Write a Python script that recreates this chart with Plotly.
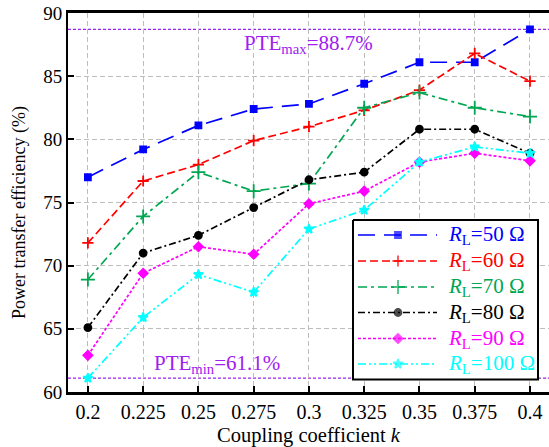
import plotly.graph_objects as go

k = [0.2, 0.225, 0.25, 0.275, 0.3, 0.325, 0.35, 0.375, 0.4]
pte_50 = [77.0, 79.2, 81.1, 82.4, 82.8, 84.4, 86.1, 86.1, 88.7]
pte_60 = [71.8, 76.7, 78.0, 79.9, 81.0, 82.3, 83.9, 86.8, 84.6]
pte_70 = [68.9, 73.9, 77.4, 75.9, 76.5, 82.5, 83.7, 82.5, 81.8]
pte_80 = [65.1, 71.0, 72.4, 74.6, 76.8, 77.4, 80.8, 80.8, 78.9]
pte_90 = [62.9, 69.4, 71.5, 70.9, 74.9, 75.9, 78.2, 78.9, 78.3]
pte_100 = [61.1, 65.9, 69.3, 67.9, 72.9, 74.4, 78.2, 79.4, 78.9]
loads = [50, 60, 70, 80, 90, 100]
pte_max = 88.7
pte_min = 61.1
x_ticks = [0.2, 0.225, 0.25, 0.275, 0.3, 0.325, 0.35, 0.375, 0.4]
x_tick_labels = ["0.2", "0.225", "0.25", "0.275", "0.3", "0.325", "0.35", "0.375", "0.4"]
y_ticks = [60, 65, 70, 75, 80, 85, 90]

series = [pte_50, pte_60, pte_70, pte_80, pte_90, pte_100]
colors = ["#0000FF", "#FF0000", "#00A651", "#000000", "#FF00FF", "#00FFFF"]
dashes = ["17px,9px", "8px,4px", "9px,4px,3px,4px", "7px,3px,2px,3px", "3px,2px", "8px,3px,2px,3px,2px,3px"]
symbols = ["square", "cross-thin", "cross-thin", "circle", "diamond", "star"]
msizes = [6, 8, 10, 7, 7, 7]
FONT = "Liberation Serif, Times New Roman, serif"
PURPLE = "#A020F0"

# plot area in pixels (used for the hand-made legend on an overlay axis)
PX_L, PX_R, PX_T, PX_B = 68, 549, 13, 392
LEG_X0, LEG_X1, LEG_Y0, LEG_Y1 = 353, 538, 220, 379.5
LEG_ROWS = [235, 261, 287, 312.5, 338.5, 364]
SAMPLE_X = [358, 398, 437]
TEXT_X = 446

fig = go.Figure()
for vals, R, c, d, s, ms in zip(series, loads, colors, dashes, symbols, msizes):
    fig.add_trace(go.Scatter(
        x=k, y=vals, mode="lines+markers", showlegend=False,
        name=f"R_L={R} Ω",
        line=dict(color=c, width=1.7, dash=d),
        marker=dict(symbol=s, size=ms, color=c, line=dict(color=c, width=1.8)),
    ))

for v in [pte_max, pte_min]:
    fig.add_hline(y=v, line=dict(color=PURPLE, width=1.3, dash="3px,2px"), layer="below")

fig.add_annotation(x=0.3, y=pte_max, yshift=-15, xref="x", yref="y",
                   text=f"PTE<sub>max</sub>={pte_max}%", showarrow=False,
                   font=dict(family=FONT, size=21, color=PURPLE))
fig.add_annotation(x=0.2586, y=pte_min, yshift=14, xref="x", yref="y",
                   text=f"PTE<sub>min</sub>={pte_min}%", showarrow=False,
                   font=dict(family=FONT, size=21, color=PURPLE))

# y-axis title (placed as annotation to match vertical position)
fig.add_annotation(x=(19 - PX_L) / (PX_R - PX_L), y=213, xref="paper", yref="y2",
                   xanchor="center", yanchor="middle",
                   textangle=-90, text="Power transfer efficiency (%)", showarrow=False,
                   font=dict(family=FONT, size=18, color="black"))

# legend (drawn on an invisible overlay axis in pixel units)
fig.add_trace(go.Scatter(
    x=[LEG_X0, LEG_X1, LEG_X1, LEG_X0, LEG_X0],
    y=[LEG_Y0, LEG_Y0, LEG_Y1, LEG_Y1, LEG_Y0],
    xaxis="x2", yaxis="y2", mode="lines", fill="toself", fillcolor="white",
    line=dict(color="black", width=2), showlegend=False, hoverinfo="skip"))
for row, R, c, d, s, ms in zip(LEG_ROWS, loads, colors, dashes, symbols, msizes):
    fig.add_trace(go.Scatter(
        x=SAMPLE_X, y=[row] * 3, xaxis="x2", yaxis="y2", mode="lines+markers",
        line=dict(color=c, width=1.7, dash=d),
        marker=dict(symbol=s, size=[0, ms, 0], color=c, line=dict(color=c, width=1.8)),
        showlegend=False, hoverinfo="skip"))
    fig.add_annotation(x=TEXT_X, y=row, xref="x2", yref="y2", xanchor="left",
                       text=f"<i>R</i><sub>L</sub>={R} Ω", showarrow=False,
                       font=dict(family=FONT, size=21, color=c))

fig.update_layout(
    width=549, height=447,
    margin=dict(l=PX_L, r=549 - PX_R, t=PX_T, b=447 - PX_B),
    plot_bgcolor="white", paper_bgcolor="white",
    font=dict(family=FONT, size=18, color="black"),
    showlegend=False,
    xaxis=dict(range=[0.191, 0.4086], tickvals=x_ticks, ticktext=x_tick_labels,
               showline=True, linecolor="black", linewidth=2.5, mirror=True,
               ticks="inside", ticklen=6, tickwidth=1.5, tickcolor="black",
               showgrid=True, gridcolor="#BDBDBD", griddash="5px,3px", gridwidth=1,
               zeroline=False,
               title=dict(text="Coupling coefficient <i>k</i>", font=dict(size=20.5), standoff=8),
               tickfont=dict(size=20)),
    yaxis=dict(range=[60, 90], tickvals=y_ticks,
               showline=True, linecolor="black", linewidth=2, mirror=False,
               ticks="inside", ticklen=6, tickwidth=1.5, tickcolor="black",
               showgrid=True, gridcolor="#BDBDBD", griddash="5px,3px", gridwidth=1,
               zeroline=False, tickfont=dict(size=19)),
    xaxis2=dict(overlaying="x", range=[PX_L, PX_R], visible=False, fixedrange=True),
    yaxis2=dict(overlaying="y", range=[PX_B, PX_T], visible=False, fixedrange=True),
)

fig.write_html("out.html")
